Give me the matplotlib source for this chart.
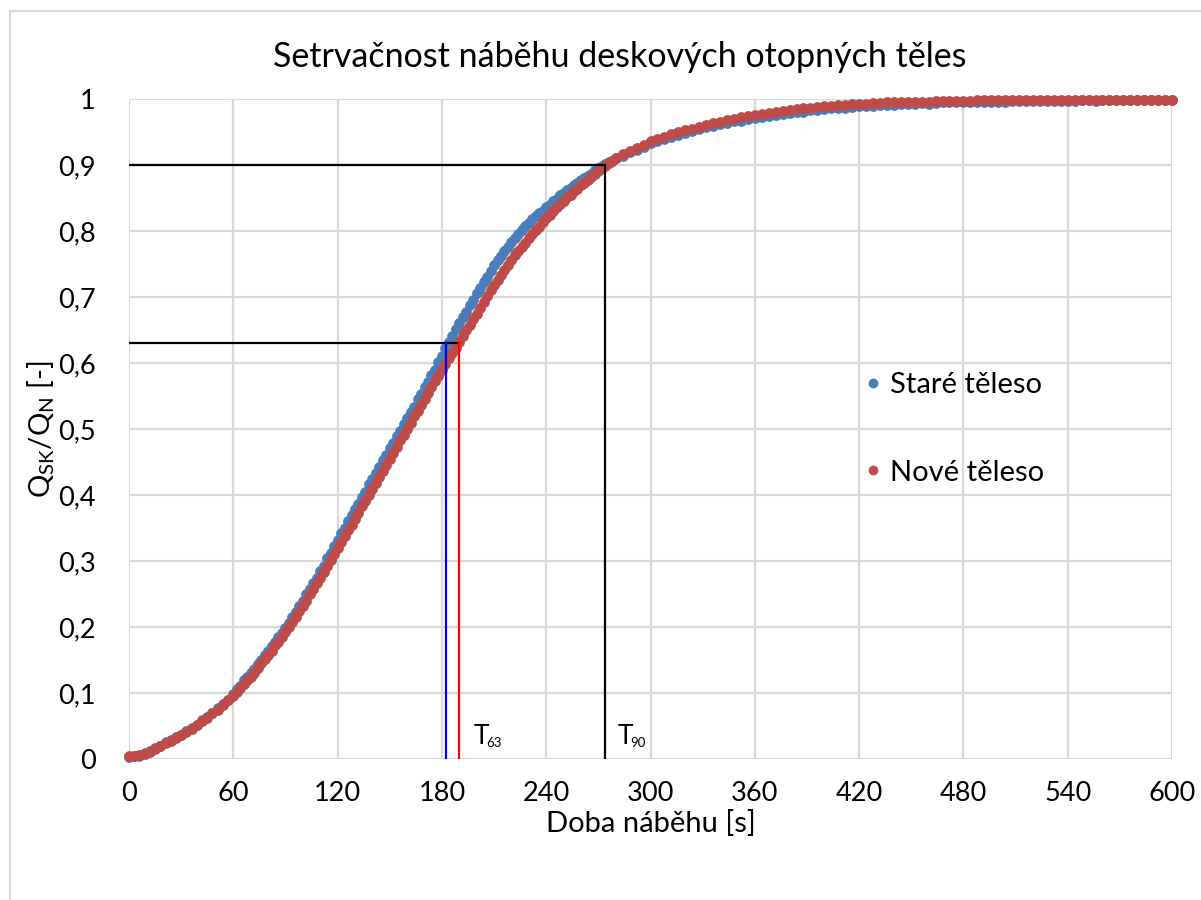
import numpy as np
import matplotlib
matplotlib.use("Agg")
import matplotlib.pyplot as plt
from matplotlib.lines import Line2D

plt.rcParams['font.family'] = ['Lato', 'DejaVu Sans']

# ---- data (time in s) ----
t_start = np.arange(0, 61, 3)
t_mid = np.arange(62, 281, 2)
t_end = np.arange(284, 601, 4)
time_s = np.concatenate([t_start, t_mid, t_end])

stare_start = [0.003, 0.004, 0.005, 0.009, 0.011, 0.016, 0.020, 0.026, 0.029, 0.034, 0.037,
               0.043, 0.047, 0.052, 0.059, 0.064, 0.070, 0.078, 0.084, 0.090, 0.099]
stare_mid = [0.106, 0.111, 0.119, 0.124, 0.131,
             0.136, 0.144, 0.150, 0.157, 0.163,
             0.171, 0.177, 0.185, 0.191, 0.199,
             0.206, 0.215, 0.222, 0.232, 0.240,
             0.250, 0.257, 0.267, 0.275, 0.285,
             0.293, 0.304, 0.312, 0.323, 0.332,
             0.342, 0.350, 0.361, 0.369, 0.379,
             0.387, 0.397, 0.405, 0.416, 0.424,
             0.434, 0.442, 0.453, 0.461, 0.471,
             0.479, 0.489, 0.497, 0.508, 0.516,
             0.526, 0.534, 0.545, 0.553, 0.563,
             0.571, 0.582, 0.590, 0.601, 0.610,
             0.622, 0.632, 0.641, 0.651, 0.660,
             0.670, 0.678, 0.688, 0.696, 0.706,
             0.714, 0.723, 0.731, 0.740, 0.748,
             0.756, 0.762, 0.770, 0.776, 0.784,
             0.789, 0.796, 0.801, 0.807, 0.812,
             0.818, 0.822, 0.828, 0.831, 0.837,
             0.840, 0.845, 0.849, 0.854, 0.857,
             0.862, 0.865, 0.870, 0.872, 0.877,
             0.880, 0.884, 0.887, 0.892, 0.895,
             0.899, 0.901, 0.905, 0.906, 0.910]
stare_end = [0.914, 0.919, 0.923, 0.928, 0.933,
             0.936, 0.940, 0.943, 0.946, 0.949,
             0.952, 0.955, 0.957, 0.959, 0.962,
             0.964, 0.966, 0.967, 0.969, 0.971,
             0.973, 0.974, 0.976, 0.978, 0.979,
             0.980, 0.981, 0.983, 0.984, 0.985,
             0.986, 0.987, 0.987, 0.988, 0.989,
             0.990, 0.990, 0.991, 0.991, 0.991,
             0.992, 0.993, 0.993, 0.994, 0.993,
             0.994, 0.995, 0.995, 0.995, 0.995,
             0.996, 0.996, 0.996, 0.996, 0.996,
             0.996, 0.997, 0.997, 0.997, 0.997,
             0.997, 0.997, 0.997, 0.997, 0.997,
             0.997, 0.998, 0.998, 0.997, 0.998,
             0.998, 0.998, 0.998, 0.998, 0.998,
             0.998, 0.998, 0.998, 0.998, 0.998]

nove_start = [0.004, 0.004, 0.006, 0.008, 0.012, 0.015, 0.020, 0.024, 0.028, 0.032, 0.036,
              0.041, 0.046, 0.051, 0.057, 0.062, 0.069, 0.075, 0.082, 0.089, 0.096]
nove_mid = [0.102, 0.107, 0.113, 0.120, 0.125,
            0.131, 0.138, 0.145, 0.151, 0.157,
            0.164, 0.172, 0.178, 0.185, 0.193,
            0.200, 0.208, 0.215, 0.224, 0.232,
            0.240, 0.250, 0.257, 0.266, 0.275,
            0.283, 0.292, 0.301, 0.311, 0.320,
            0.329, 0.338, 0.347, 0.355, 0.364,
            0.373, 0.383, 0.391, 0.400, 0.409,
            0.418, 0.428, 0.437, 0.446, 0.455,
            0.464, 0.473, 0.483, 0.491, 0.500,
            0.509, 0.519, 0.527, 0.536, 0.545,
            0.554, 0.563, 0.572, 0.580, 0.589,
            0.598, 0.607, 0.615, 0.623, 0.632,
            0.641, 0.650, 0.658, 0.666, 0.675,
            0.684, 0.692, 0.701, 0.710, 0.718,
            0.726, 0.734, 0.741, 0.749, 0.756,
            0.763, 0.770, 0.776, 0.782, 0.789,
            0.795, 0.801, 0.806, 0.813, 0.820,
            0.825, 0.831, 0.836, 0.841, 0.846,
            0.851, 0.855, 0.860, 0.864, 0.869,
            0.873, 0.878, 0.882, 0.887, 0.891,
            0.895, 0.899, 0.903, 0.906, 0.910]
nove_end = [0.916, 0.921, 0.926, 0.931, 0.936,
            0.940, 0.943, 0.947, 0.950, 0.953,
            0.955, 0.958, 0.961, 0.963, 0.965,
            0.968, 0.970, 0.972, 0.974, 0.976,
            0.977, 0.979, 0.981, 0.982, 0.984,
            0.985, 0.986, 0.987, 0.988, 0.989,
            0.990, 0.991, 0.991, 0.992, 0.993,
            0.993, 0.994, 0.994, 0.995, 0.995,
            0.995, 0.996, 0.996, 0.996, 0.996,
            0.997, 0.997, 0.997, 0.997, 0.997,
            0.997, 0.998, 0.998, 0.998, 0.998,
            0.998, 0.998, 0.998, 0.998, 0.998,
            0.998, 0.998, 0.999, 0.998, 0.999,
            0.999, 0.999, 0.999, 0.999, 0.999,
            0.999, 0.999, 0.999, 0.999, 0.999,
            0.999, 0.999, 0.999, 0.999, 0.999]

stare = np.array(stare_start + stare_mid + stare_end)
nove = np.array(nove_start + nove_mid + nove_end)

level_63 = 0.63
level_90 = 0.90
t63_stare = 182.4
t63_nove = 190.0
t90 = 274.0

x_ticks = list(range(0, 601, 60))
y_ticks = [round(0.1 * i, 1) for i in range(11)]
y_tick_labels = ['0' if v == 0 else ('1' if v == 1 else f"{v:.1f}".replace('.', ',')) for v in y_ticks]

col_blue = '#4A7EBB'
col_red = '#BE4B48'

# ---- figure ----
fig = plt.figure(figsize=(12.01, 9.0), dpi=100)
ax = fig.add_axes([129 / 1201, 1 - 759 / 900, (1172 - 129) / 1201, (759 - 99) / 900])

# outer frame (partially visible)
fig.add_artist(Line2D([10 / 1201, 1.0], [1 - 11 / 900, 1 - 11 / 900], color='#d9d9d9', lw=1.5,
                      transform=fig.transFigure))
fig.add_artist(Line2D([10 / 1201, 10 / 1201], [0, 1 - 11 / 900], color='#d9d9d9', lw=1.5,
                      transform=fig.transFigure))

ax.set_xlim(0, 600)
ax.set_ylim(0, 1)
ax.set_xticks(x_ticks)
ax.set_yticks(y_ticks)
ax.set_yticklabels(y_tick_labels)
ax.grid(True, color='#d9d9d9', lw=1.6, zorder=0)
ax.set_axisbelow(True)
for s in ax.spines.values():
    s.set_visible(False)
ax.tick_params(length=0, labelsize=19.5, colors='#000000')
ax.tick_params(axis='x', pad=16)
ax.tick_params(axis='y', pad=24)

ax.plot(time_s, stare, 'o', color=col_blue, ms=7.2, mec=col_blue, mew=0.5, zorder=3, clip_on=False)
ax.plot(time_s, nove, 'o', color=col_red, ms=7.2, mec=col_red, mew=0.5, zorder=4, clip_on=False)

# reference lines
ax.plot([0, t63_nove], [level_63, level_63], color='black', lw=1.6, zorder=5)
ax.plot([0, t90], [level_90, level_90], color='black', lw=1.6, zorder=5)
ax.plot([t90, t90], [0, level_90], color='black', lw=1.6, zorder=5)
ax.plot([t63_stare, t63_stare], [0, level_63], color='#0000FF', lw=1.6, zorder=5)
ax.plot([t63_nove, t63_nove], [0, level_63], color='#FF0000', lw=1.6, zorder=5)

for t_pos, sub in [(t63_nove + 8, '63'), (t90 + 7, '90')]:
    ax.text(t_pos, 0.023, 'T', fontsize=19, va='baseline', ha='left')
    ax.annotate(sub, xy=(t_pos, 0.023), xytext=(9.5, -2), textcoords='offset points',
                fontsize=9.5, va='baseline', ha='left')

fig.text(620 / 1201, 1 - 57 / 900, 'Setrvačnost náběhu deskových otopných těles',
         fontsize=24.5, ha='center', va='center')
ax.set_xlabel('Doba náběhu [s]', fontsize=21, labelpad=3)
ax.set_ylabel(r'$\mathregular{Q_{SK}/Q_{N}}$ [-]', fontsize=21, labelpad=1)

handles = [Line2D([], [], ls='', marker='o', color=col_blue, ms=6),
           Line2D([], [], ls='', marker='o', color=col_red, ms=6)]
ax.legend(handles, ['Staré těleso', 'Nové těleso'], loc='center left',
          bbox_to_anchor=(0.674, 0.500), frameon=False, fontsize=21,
          labelspacing=2.1, handletextpad=0.1, handlelength=1.0)

fig.savefig('out.png', dpi=100, facecolor='white')
